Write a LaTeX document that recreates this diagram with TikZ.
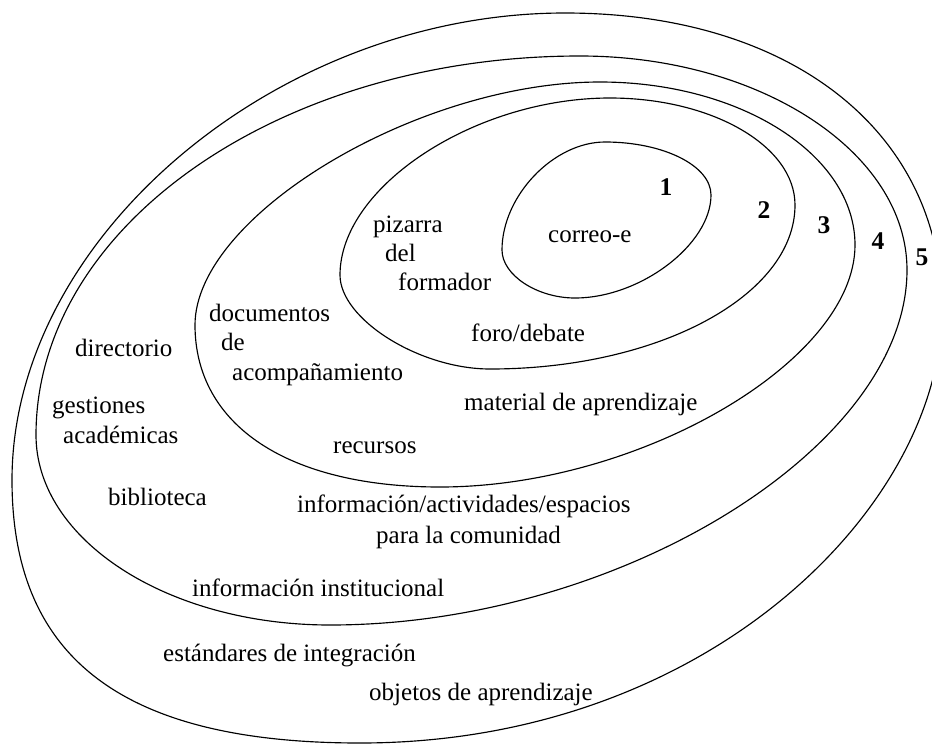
\documentclass[tikz,border=0pt]{standalone}
\usepackage{fontspec}
\setmainfont{Liberation Serif}
\begin{document}
\begin{tikzpicture}[x=1pt,y=-1pt,
  ring/.style={line width=1.15pt, black},
  lbl/.style={anchor=mid west, inner sep=0pt, font=\fontsize{25}{28}\selectfont},
  num/.style={anchor=center, inner sep=0pt, font=\fontsize{25.5}{28}\selectfont\bfseries}]
\useasboundingbox (0,0) rectangle (932,745);

% extreme points (top, right, bottom, left) of each ring
\coordinate (T5) at (565,13);  \coordinate (R5) at (942,310);
\coordinate (B5) at (360,743); \coordinate (L5) at (12,480);
\coordinate (T4) at (580,56);  \coordinate (R4) at (907,270);
\coordinate (B4) at (330,625); \coordinate (L4) at (36,435);
\coordinate (T3) at (600,82);  \coordinate (R3) at (855,245);
\coordinate (B3) at (440,487); \coordinate (L3) at (195,325);
\coordinate (T2) at (610,98);  \coordinate (R2) at (795,205);
\coordinate (B2) at (490,369); \coordinate (L2) at (340,275);
\coordinate (T1) at (605,142); \coordinate (R1) at (711,195);
\coordinate (B1) at (575,298); \coordinate (L1) at (502,250);

% ring 5 (outermost)
\draw[ring] (T5) .. controls (791.2,13) and (942,131.8) .. (R5)
  .. controls (942,505) and (709,743) .. (B5)
  .. controls (123.4,743) and (12,658.8) .. (L5)
  .. controls (12,237.2) and (277.4,13) .. cycle;
% ring 4
\draw[ring] (T4) .. controls (759.9,56) and (907,152.3) .. (R4)
  .. controls (907,447.5) and (618.5,625) .. (B4)
  .. controls (167.7,625) and (36,539.9) .. (L4)
  .. controls (36,225.8) and (279.7,56) .. cycle;
% ring 3
\draw[ring] (T3) .. controls (740.8,82) and (855,155) .. (R3)
  .. controls (855,361.2) and (639.2,487) .. (B3)
  .. controls (288.1,487) and (195,425.4) .. (L3)
  .. controls (195,215.65) and (417.75,82) .. cycle;
% ring 2
\draw[ring] (T2) .. controls (712.1,98) and (795,145.9) .. (R2)
  .. controls (795,295.5) and (658.4,369) .. (B2)
  .. controls (419.5,369) and (340,319.2) .. (L2)
  .. controls (340,186.5) and (475,98) .. cycle;
% ring 1 (innermost)
\draw[ring] (T1) .. controls (663.5,142) and (711,165.7) .. (R1)
  .. controls (711,244.4) and (640.3,298) .. (B1)
  .. controls (537,298) and (502,275) .. (L1)
  .. controls (502,196) and (553.5,142) .. cycle;

% ring numbers
\node[num] (n1) at (666,187) {1};
\node[num] (n2) at (764,210) {2};
\node[num] (n3) at (824,225) {3};
\node[num] (n4) at (878,241) {4};
\node[num] (n5) at (922,257) {5};

% ring 1
\node[lbl] (correo) at (548,240) {correo-e};
% ring 2
\node[lbl] (pizarra) at (373,230) {pizarra};
\node[lbl] (del) at (385,259) {del};
\node[lbl] (formador) at (398,288) {formador};
\node[lbl] (foro) at (471,339) {foro/debate};
% ring 3
\node[lbl] (documentos) at (209,319) {documentos};
\node[lbl] (de) at (221,348) {de};
\node[lbl] (acomp) at (232,378) {acompañamiento};
\node[lbl] (material) at (464,408) {material de aprendizaje};
\node[lbl] (recursos) at (333,451) {recursos};
% ring 4
\node[lbl] (directorio) at (75,354) {directorio};
\node[lbl] (gestiones) at (52,411) {gestiones};
\node[lbl] (academicas) at (63,441) {académicas};
\node[lbl] (biblioteca) at (108,503) {biblioteca};
\node[lbl] (comunidad1) at (297,510) {información/actividades/espacios};
\node[lbl] (comunidad2) at (376,541) {para la comunidad};
\node[lbl] (institucional) at (192,594) {información institucional};
% ring 5
\node[lbl] (estandares) at (163,659) {estándares de integración};
\node[lbl] (objetos) at (369,698) {objetos de aprendizaje};
\end{tikzpicture}
\end{document}
